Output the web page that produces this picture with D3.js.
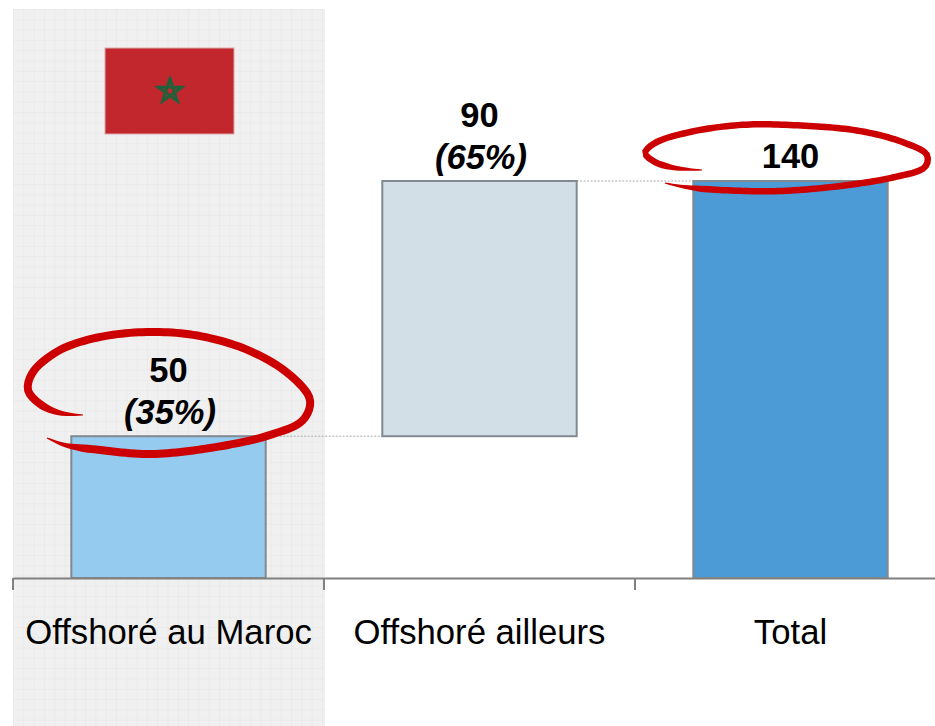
<!DOCTYPE html>
<html>
<head>
<meta charset="utf-8">
<style>
  html, body { margin: 0; padding: 0; background: #fff; }
  svg { display: block; }
  text { font-family: "Liberation Sans", Arial, sans-serif; fill: #000; }
</style>
<script src="https://cdn.jsdelivr.net/npm/d3@7/dist/d3.min.js"></script>
</head>
<body>
<div id="chart"></div>
<script>
// Chart data
var categories = ["Offshoré au Maroc", "Offshoré ailleurs", "Total"];
var barStart = [0, 50, 0];
var barEnd = [50, 140, 140];
var valueLabels = ["50", "90", "140"];
var shareLabels = ["(35%)", "(65%)", null];
var barColors = ["#95cbee", "#d2dfe6", "#4c9ad6"];

var width = 935, height = 726;
var baseline = 578;

var svg = d3.select("#chart").append("svg")
    .attr("width", width)
    .attr("height", height);

// Set the ranges. The last band runs off the right edge of the page
var x = d3.scaleBand().domain(categories).range([13, 946]).paddingInner(0.375).paddingOuter(0.1875);
var y = d3.scaleLinear().domain([0, 140]).range([baseline, 181]);

function bandCenter(c) { return x(c) + x.bandwidth() / 2; }
function bandEdge(i) { return 13 + i * x.step(); }

// Grid paper behind the first category
var defs = svg.append("defs");
var pattern = defs.append("pattern")
    .attr("id", "paper")
    .attr("patternUnits", "userSpaceOnUse")
    .attr("x", 13)
    .attr("y", 9)
    .attr("width", 10.3)
    .attr("height", 10.3);
pattern.append("rect").attr("width", 10.3).attr("height", 10.3).attr("fill", "#f0f0f0");
pattern.append("path").attr("d", "M0 0H10.3M0 0V10.3").attr("stroke", "#e5e5e5").attr("stroke-width", 1).attr("fill", "none");

svg.append("rect")
    .attr("x", bandEdge(0))
    .attr("y", 9)
    .attr("width", x.step() + 1)
    .attr("height", height - 9)
    .attr("fill", "url(#paper)");

// Flag
defs.append("filter").attr("id", "soft").append("feGaussianBlur").attr("stdDeviation", 0.6);
svg.append("rect")
    .attr("x", 105).attr("y", 48)
    .attr("width", 129).attr("height", 86)
    .attr("fill", "#c1272d")
    .attr("stroke", "#d9a9aa")
    .attr("stroke-width", 1);

var starR = 12.5, starPts = [];
for (var i = 0; i < 5; i++) {
    var a = -Math.PI / 2 + i * 2 * (2 * Math.PI / 5);
    starPts.push([170 + starR * Math.cos(a), 91 + starR * Math.sin(a)]);
}
svg.append("path")
    .attr("d", d3.line().curve(d3.curveLinearClosed)(starPts))
    .attr("fill", "none")
    .attr("stroke", "#24603a")
    .attr("stroke-width", 3)
    .attr("filter", "url(#soft)");

// Dotted connectors between the bars
svg.selectAll(".connector")
    .data([0, 1])
    .enter().append("line")
    .attr("class", "connector")
    .attr("x1", function(d) { return x(categories[d]) + x.bandwidth(); })
    .attr("x2", function(d) { return x(categories[d + 1]); })
    .attr("y1", function(d) { return y(barEnd[d]); })
    .attr("y2", function(d) { return y(barEnd[d]); })
    .attr("stroke", "#aaaaaa")
    .attr("stroke-width", 1)
    .attr("stroke-dasharray", "2,1.5");

// Bars
svg.selectAll(".bar")
    .data(categories)
    .enter().append("rect")
    .attr("class", "bar")
    .attr("x", function(d) { return x(d); })
    .attr("width", x.bandwidth())
    .attr("y", function(d, i) { return y(barEnd[i]); })
    .attr("height", function(d, i) { return y(barStart[i]) - y(barEnd[i]); })
    .attr("fill", function(d, i) { return barColors[i]; })
    .attr("stroke", "#808a90")
    .attr("stroke-width", 2);

// Add the x Axis, labels only, the ticks sit between the categories
var axis = svg.append("g")
    .attr("transform", "translate(0," + baseline + ")")
    .call(d3.axisBottom(x).tickSize(0).tickPadding(41));
axis.select(".domain").attr("stroke", "#808080").attr("stroke-width", 2);
axis.selectAll("text").style("font-size", "34.7px").style("fill", "#000").style("font-family", '"Liberation Sans", Arial, sans-serif');

svg.selectAll(".sep")
    .data([0, 1, 2])
    .enter().append("line")
    .attr("class", "sep")
    .attr("x1", bandEdge).attr("x2", bandEdge)
    .attr("y1", baseline).attr("y2", baseline + 12)
    .attr("stroke", "#808080")
    .attr("stroke-width", 2);

// Value labels above the bars
svg.selectAll(".value")
    .data(categories)
    .enter().append("text")
    .attr("class", "value")
    .attr("x", function(d) { return bandCenter(d); })
    .attr("y", function(d, i) { return y(barEnd[i]) - (shareLabels[i] ? 54 : 13); })
    .attr("text-anchor", "middle")
    .style("font-size", "34.5px")
    .style("font-weight", "bold")
    .text(function(d, i) { return valueLabels[i]; });

svg.selectAll(".share")
    .data(categories.filter(function(d, i) { return shareLabels[i]; }))
    .enter().append("text")
    .attr("class", "share")
    .attr("x", function(d) { return bandCenter(d) + 1.5; })
    .attr("y", function(d, i) { return y(barEnd[i]) - 12; })
    .attr("text-anchor", "middle")
    .style("font-size", "34.5px")
    .style("font-weight", "bold")
    .style("font-style", "italic")
    .text(function(d, i) { return shareLabels[i]; });

// Hand drawn red circles, a ribbon that gets thin at both ends
var circleLeft = [[83,415],[60,413],[40,404],[28,390],[33,372],[60,350],[100,337],[150,332],[200,336],[250,351],[290,375],[310,400],[303,420],[270,435],[210,448],[150,454],[100,450],[65,445],[47,438]];
var circleTotal = [[702,170],[675,168],[655,162],[645,153],[655,143],[690,132],[740,125],[790,125],[860,131],[905,143],[927,155],[925,167],[895,177],[840,186],[780,191],[720,190],[685,187],[665,183]];

function ribbon(points, maxWidth) {
    // sample the smooth centre line first, then offset it both ways
    var probe = svg.append("path")
        .attr("d", d3.line().curve(d3.curveCatmullRom)(points))
        .attr("fill", "none");
    var node = probe.node(), len = node.getTotalLength();
    var steps = 160, a = [], b = [];
    for (var i = 0; i <= steps; i++) {
        var t = i / steps;
        var p = node.getPointAtLength(t * len);
        var q = node.getPointAtLength(Math.min(len, t * len + 0.5));
        var r = node.getPointAtLength(Math.max(0, t * len - 0.5));
        var dx = q.x - r.x, dy = q.y - r.y, n = Math.sqrt(dx * dx + dy * dy);
        var w = maxWidth / 2 * Math.min(1, 0.15 + Math.min(t, 1 - t) * 14);
        a.push([p.x - dy / n * w, p.y + dx / n * w]);
        b.push([p.x + dy / n * w, p.y - dx / n * w]);
    }
    probe.remove();
    svg.append("path")
        .attr("d", d3.line()(a.concat(b.reverse())) + "Z")
        .attr("fill", "#cc0000");
}
ribbon(circleLeft, 8);
ribbon(circleTotal, 6.5);
</script>
</body>
</html>
